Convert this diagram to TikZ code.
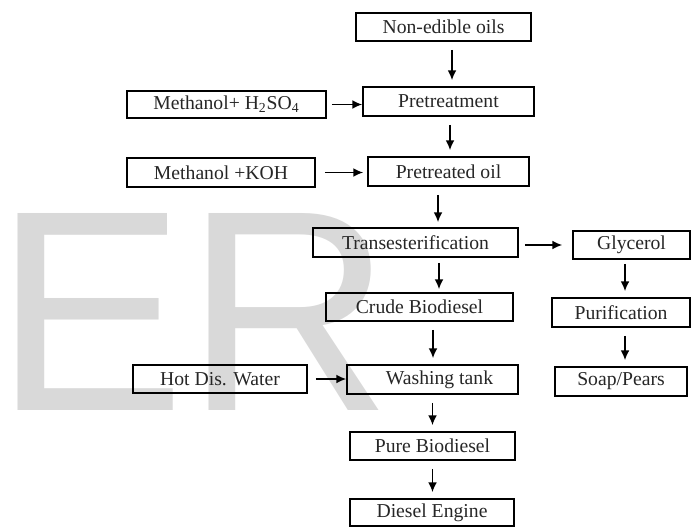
\documentclass[tikz,border=0pt]{standalone}
\usepackage{fontspec}
\setmainfont{Liberation Serif}
\newfontfamily\markfont{Liberation Sans}
\usetikzlibrary{arrows.meta}
\tikzset{>=latex}
\newlength\px
\setlength\px{0.02cm}
\colorlet{markcol}{black!15}
\tikzset{
  stage/.style={draw, line width=1.1pt, inner sep=0pt, minimum height=28\px,
    text=black!85, font=\fontsize{11.2}{13}\selectfont},
  flow/.style={-{Latex[length=5.5pt,width=5pt]}, line width=0.75pt},
  vflow/.style={flow, shorten <=8\px, shorten >=6\px},
  hflow/.style={flow, shorten <=6\px}
}
\begin{document}
\begin{tikzpicture}[x=0.02cm, y=-0.02cm]
                \useasboundingbox (0,0) rectangle (692,527);
                \node[anchor=base west, inner sep=0pt, text=markcol, font=\markfont\fontsize{163}{163}\selectfont] (mark) at (-6,410) {ER};
                \node[stage, minimum width=175\px] (oils) at (443.5,27) {Non-edible oils};
                \node[stage, minimum width=171\px, minimum height=29\px] (pretreat) at (448.5,101.5) {Pretreatment};
                \node[stage, minimum width=199\px, minimum height=27\px] (acid) at (226.5,104.5) {Methanol+ H\textsubscript{2}SO\textsubscript{4}};
                \node[stage, minimum width=188\px, minimum height=29\px] (base) at (221,172.5) {Methanol +KOH};
                \node[stage, minimum width=161\px, minimum height=29\px] (oiltr) at (448.5,171.5) {Pretreated oil};
                \node[stage, minimum width=205\px, minimum height=29\px] (trans) at (415.5,242.5) {Transesterification};
                \node[stage, minimum width=117\px] (glyc) at (631.5,245) {Glycerol};
                \node[stage, minimum width=187\px] (crude) at (419.5,307) {Crude Biodiesel};
                \node[stage, minimum width=138\px, minimum height=29\px] (purif) at (621,312.5) {Purification};
                \node[stage, minimum width=174\px] (water) at (220,379) {Hot Dis. Water};
                \node[stage, minimum width=171\px, minimum height=29\px] (wash) at (432.5,379.5) {\hspace*{14\px}Washing tank};
                \node[stage, minimum width=132\px, minimum height=29\px] (soap) at (621,381.5) {Soap/Pears};
                \node[stage, minimum width=165\px] (pure) at (432.5,446) {Pure Biodiesel};
                \node[stage, minimum width=164\px, minimum height=27\px] (engine) at (432,512.5) {Diesel Engine};
                \draw[vflow] ([xshift=8.5\px]oils.south) -- ([xshift=8.5\px]oils.south |- pretreat.north);
                \draw[vflow] ([xshift=1.5\px]pretreat.south) -- ([xshift=1.5\px]pretreat.south |- oiltr.north);
                \draw[vflow, shorten >=5\px] ([xshift=-10.5\px]oiltr.south) -- ([xshift=-10.5\px]oiltr.south |- trans.north);
                \draw[vflow, shorten <=5\px, shorten >=3\px] ([xshift=23.5\px]trans.south) -- ([xshift=23.5\px]trans.south |- crude.north);
                \draw[vflow] ([xshift=13.5\px]crude.south) -- ([xshift=13.5\px]crude.south |- wash.north);
                \draw[vflow] (wash.south) -- (wash.south |- pure.north);
                \draw[vflow] (pure.south) -- (pure.south |- engine.north);
                \draw[vflow, shorten <=4\px] ([xshift=-6.5\px]glyc.south) -- ([xshift=-6.5\px]glyc.south |- purif.north);
                \draw[vflow] ([xshift=4\px]purif.south) -- ([xshift=4\px]purif.south |- soap.north);
                \draw[hflow, shorten <=5\px] (acid.east) -- (acid.east -| pretreat.west);
                \draw[hflow, shorten <=9\px, shorten >=4\px] (base.east) -- (base.east -| oiltr.west);
                \draw[hflow, shorten >=10\px] (trans.east |- glyc.west) -- (glyc.west);
                \draw[hflow, shorten <=8\px] (water.east) -- (water.east -| wash.west);
            \end{tikzpicture}
\end{document}
